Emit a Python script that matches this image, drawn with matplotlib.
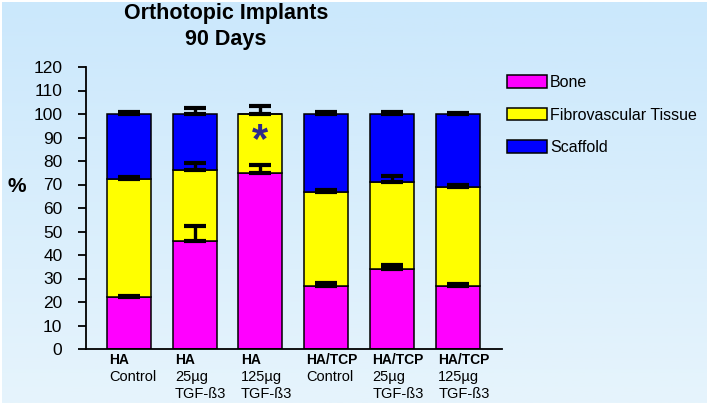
import numpy as np
import matplotlib
matplotlib.use('Agg')
import matplotlib.pyplot as plt

plt.rcParams['font.family'] = ['Liberation Sans', 'DejaVu Sans']

# 数据
groups = ['HA', 'HA', 'HA', 'HA/TCP', 'HA/TCP', 'HA/TCP']
subs = ['Control', '25µg\nTGF-ß3', '125µg\nTGF-ß3', 'Control', '25µg\nTGF-ß3', '125µg\nTGF-ß3']
bone = [22, 46, 75, 27, 34, 27]
fibro = [50.5, 30, 25, 40, 37, 42]
scaffold = [27.5, 24, 0, 33, 29, 31]
bone_err = [0.7, 6.5, 3.2, 1.0, 1.8, 0.6]
fibro_err = [0.8, 3.3, 3.5, 0.5, 2.6, 0.6]
scaffold_err = [0.8, 2.6, 0, 1.0, 1.0, 0.4]
series = ['Bone', 'Fibrovascular Tissue', 'Scaffold']
colors = ['#ff00ff', '#ffff00', '#0000ff']

W, H = 709, 405
fig = plt.figure(figsize=(W / 100, H / 100), dpi=100)
fig.patch.set_facecolor('white')

# 渐变背景
bg = fig.add_axes([2 / W, 2 / H, 1 - 4 / W, 1 - 4 / H])
grad = np.linspace(0, 1, 256).reshape(-1, 1)
cmap = matplotlib.colors.LinearSegmentedColormap.from_list('bg', ['#cbe8fc', '#e6f4fc'])
bg.imshow(grad, aspect='auto', cmap=cmap, extent=[0, 1, 0, 1], origin='upper')
bg.axis('off')

ax = fig.add_axes([86 / W, (H - 349) / H, (502 - 86) / W, (349 - 67) / H])
ax.patch.set_alpha(0)

x = np.arange(len(groups))
bw = 0.67
b1 = ax.bar(x, bone, bw, color=colors[0], edgecolor='black', linewidth=1.1, label=series[0], zorder=2)
b2 = ax.bar(x, fibro, bw, bottom=bone, color=colors[1], edgecolor='black', linewidth=1.1, label=series[1], zorder=2)
top2 = np.array(bone) + np.array(fibro)
b3 = ax.bar(x, scaffold, bw, bottom=top2, color=colors[2], edgecolor='black', linewidth=1.1, label=series[2], zorder=2)
top3 = top2 + np.array(scaffold)

# 误差线(只向上)
for vals, errs in [(bone, bone_err), (top2, fibro_err), (top3, scaffold_err)]:
    errs = np.array(errs)
    m = errs > 0
    ax.errorbar(x[m], np.array(vals)[m], yerr=[np.zeros(m.sum()), errs[m]], fmt='none',
                ecolor='black', elinewidth=2.4, capsize=8, capthick=3, zorder=3)

ax.text(2, 88.5, '*', ha='center', va='center', fontsize=30, fontweight='bold', color='#2e2a8a', zorder=4)

ax.set_xlim(-0.65, 5.67)
ax.set_ylim(0, 120)
ax.set_yticks(range(0, 121, 10))
ax.tick_params(axis='y', length=6, width=1.3, pad=11, labelsize=12.5)
ax.set_xticks([])
for s in ['top', 'right']:
    ax.spines[s].set_visible(False)
for s in ['left', 'bottom']:
    ax.spines[s].set_linewidth(1.3)

# x轴标签: 第一行加粗, 其余各行逐行放置
for i in range(len(groups)):
    ax.annotate(groups[i], xy=(i - 0.30, 0), xycoords=('data', 'axes fraction'),
                xytext=(0, -15), textcoords='offset pixels', ha='left', va='baseline',
                fontsize=10, fontweight='bold')
    for k, line in enumerate(subs[i].split('\n')):
        ax.annotate(line, xy=(i - 0.30, 0), xycoords=('data', 'axes fraction'),
                    xytext=(0, -32 - 17 * k), textcoords='offset pixels', ha='left', va='baseline',
                    fontsize=10.5)

fig.text(17 / W, 1 - 187 / H, '%', ha='center', va='center', fontsize=15, fontweight='bold')
fig.text(226 / W, 1 - 18.5 / H, 'Orthotopic Implants', ha='center', va='baseline', fontsize=15.5, fontweight='bold')
fig.text(226 / W, 1 - 45 / H, '90 Days', ha='center', va='baseline', fontsize=15.5, fontweight='bold')

fig.legend(handles=[b1, b2, b3], labels=series, loc='upper left',
           bbox_to_anchor=(499 / W, 1 - 67 / H), frameon=False, fontsize=11.5,
           handlelength=2.5, handleheight=0.85, labelspacing=1.1, handletextpad=0.2, borderpad=0)

plt.savefig('out.png', dpi=100)
